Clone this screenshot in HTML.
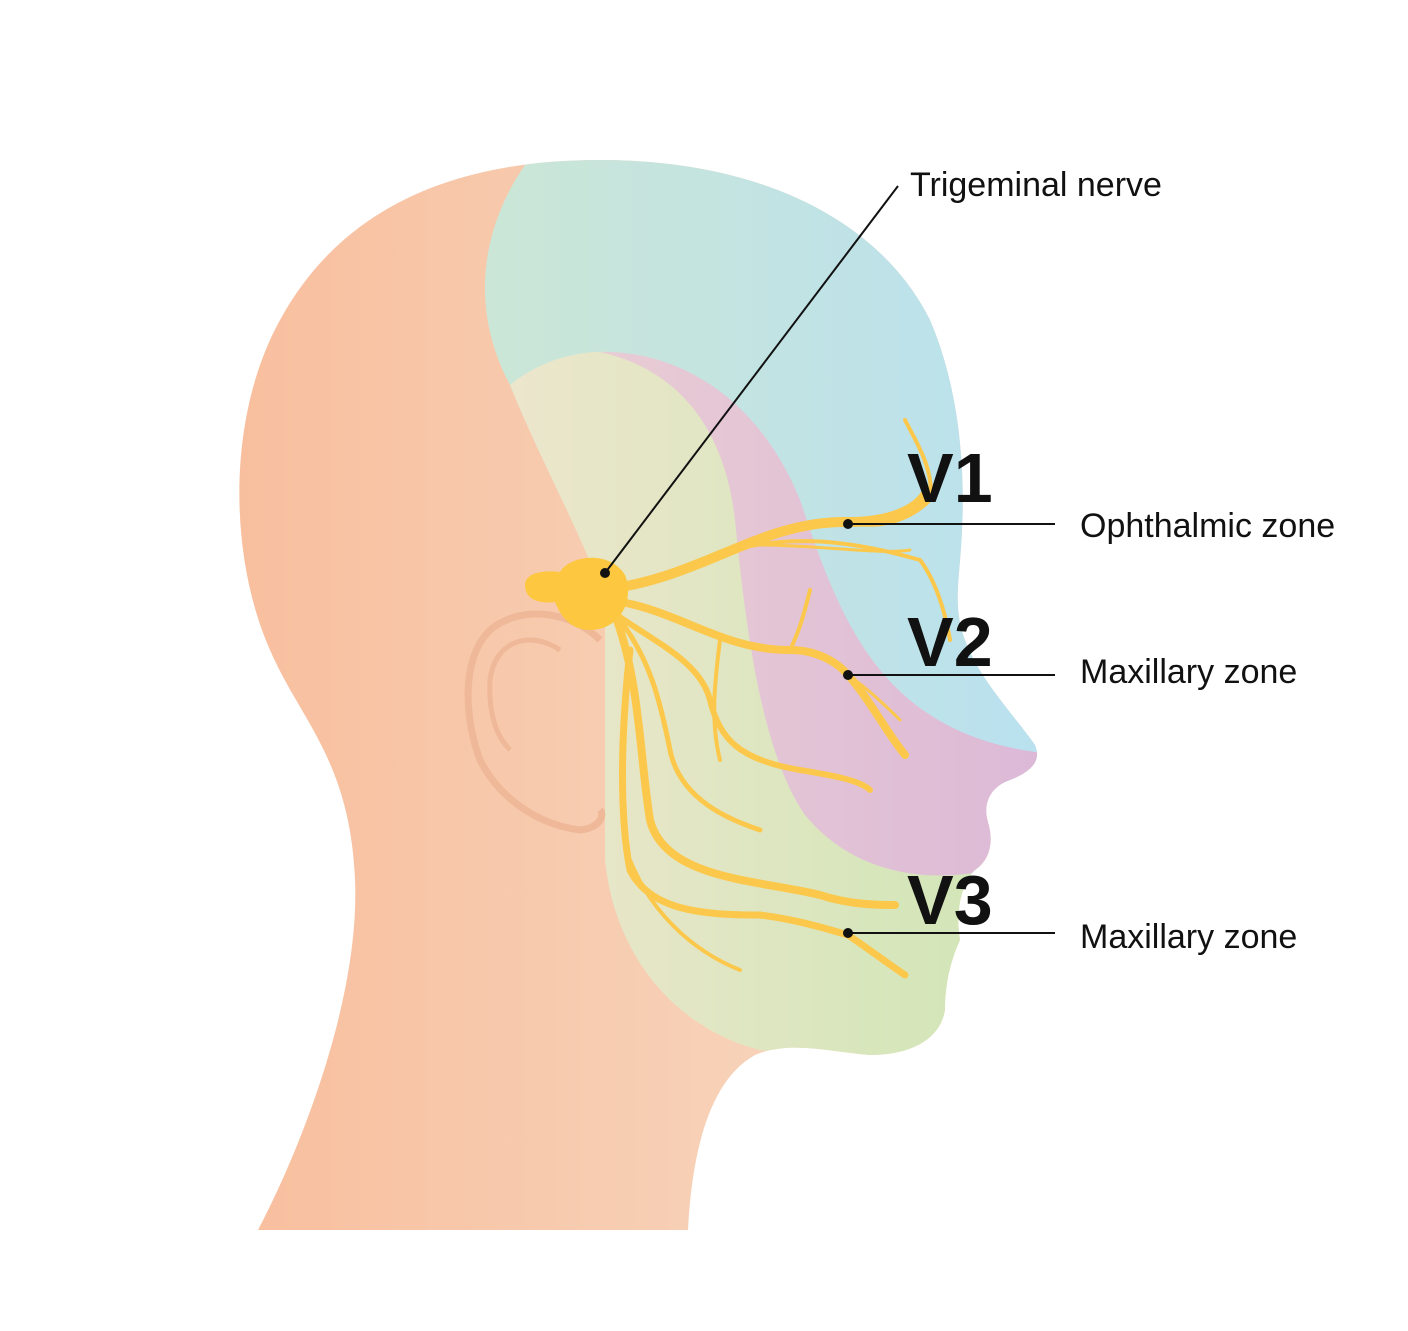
<!DOCTYPE html>
<html><head><meta charset="utf-8"><style>
html,body{margin:0;padding:0;background:#fff}
svg{display:block}
text{font-family:"Liberation Sans",sans-serif}
</style></head><body>
<svg width="1408" height="1331" viewBox="0 0 1408 1331" xmlns="http://www.w3.org/2000/svg">
<defs>
<linearGradient id="gO" x1="0" x2="1"><stop offset="0" stop-color="#f8bf9e"/><stop offset="1" stop-color="#f6dcc6"/></linearGradient>
<linearGradient id="gB" x1="0" x2="1"><stop offset="0" stop-color="#cbe6d6"/><stop offset="1" stop-color="#b4dff6"/></linearGradient>
<linearGradient id="gG" x1="0" x2="1"><stop offset="0" stop-color="#ece6cc"/><stop offset="1" stop-color="#c6e6ae"/></linearGradient>
<linearGradient id="gP" x1="0" x2="1"><stop offset="0" stop-color="#e8ccd4"/><stop offset="1" stop-color="#d8b2d8"/></linearGradient>
<clipPath id="head"><path id="hp" d="M258,1230 C300,1150 360,1000 355,880 C350,760 300,720 270,650 C230,560 225,420 280,320 C340,210 450,160 600,160 C760,160 880,220 930,320 C960,390 965,470 962,530 C960,580 952,605 965,640 C980,680 1010,710 1035,745 C1042,762 1030,772 1010,780 C992,786 982,802 988,822 C994,842 990,860 975,870 C962,882 955,910 960,940 C950,962 945,985 945,1010 C940,1040 910,1055 870,1055 C830,1052 790,1040 755,1055 C710,1080 692,1150 688,1230 Z"/></clipPath>
</defs>
<use href="#hp" fill="url(#gO)"/>
<g clip-path="url(#head)">
<path d="M525,165 C480,230 470,310 510,385 C540,460 580,520 610,590 L1200,900 L1200,100 L525,100 Z" fill="url(#gB)"/>
<path d="M510,385 C540,360 580,350 610,352 C680,355 720,420 740,520 C760,650 780,780 850,850 C900,880 950,880 990,860 L1200,860 L1200,1100 L760,1050 C680,1030 615,960 605,860 L605,600 C580,530 540,460 510,385 Z" fill="url(#gG)"/>
<path d="M600,352 C680,350 760,400 800,500 C840,620 880,730 1035,752 L1200,752 L1200,870 L990,870 C920,885 850,870 805,815 C760,750 745,620 735,520 C725,430 680,370 600,352 Z" fill="url(#gP)"/>
</g>
<path d="M600,640 C570,610 520,605 490,630 C460,660 465,720 480,760 C500,800 540,825 580,830 C600,828 605,815 600,810" fill="none" stroke="#efb898" stroke-width="7"/>
<path d="M560,650 C530,630 495,640 490,680 C488,720 500,740 510,750" fill="none" stroke="#efb898" stroke-width="5"/>
<g fill="none" stroke="#fcc84c" stroke-linecap="round">
<path d="M600,590 C700,580 760,520 848,522 C890,522 915,510 925,495" stroke-width="10"/>
<path d="M848,522 C880,530 910,520 930,500 C935,470 915,440 905,420" stroke-width="4"/>
<path d="M700,560 C780,530 850,540 920,560 C935,580 945,610 950,640" stroke-width="4"/>
<path d="M760,545 C820,545 880,555 910,550" stroke-width="3"/>
<path d="M610,600 C680,610 720,650 790,650 C820,650 840,665 848,675 C870,700 885,730 905,755" stroke-width="8"/>
<path d="M790,650 C800,630 805,610 810,590" stroke-width="4"/>
<path d="M848,675 C870,690 890,710 900,720" stroke-width="3"/>
<path d="M610,610 C650,640 700,660 710,700 C720,740 740,760 800,770 C830,775 860,780 870,790" stroke-width="6"/>
<path d="M620,620 C650,660 660,700 670,750 C680,800 730,820 760,830" stroke-width="5"/>
<path d="M615,615 C640,680 640,760 650,820 C665,880 760,880 820,895 C850,905 880,905 895,905" stroke-width="8"/>
<path d="M630,650 C620,740 620,820 630,870 C650,910 700,915 760,915 C800,920 830,930 848,935 C870,950 890,965 905,975" stroke-width="7"/>
<path d="M630,860 C650,910 690,950 740,970" stroke-width="4"/>
<path d="M720,640 C715,680 710,720 720,760" stroke-width="4"/>
</g>
<path d="M525,585 C525,572 545,570 560,572 C570,555 610,550 625,575 C635,600 620,630 590,630 C570,630 560,615 555,602 C540,604 525,600 525,585 Z" fill="#fdc840"/>
<g stroke="#111" stroke-width="2">
<line x1="898" y1="186" x2="605" y2="573"/>
<line x1="848" y1="524" x2="1055" y2="524"/>
<line x1="848" y1="675" x2="1055" y2="675"/>
<line x1="848" y1="933" x2="1055" y2="933"/>
</g>
<g fill="#111"><circle cx="605" cy="573" r="5"/><circle cx="848" cy="524" r="5"/><circle cx="848" cy="675" r="5"/><circle cx="848" cy="933" r="5"/></g>
<g font-size="34" fill="#111">
<text x="910" y="196">Trigeminal nerve</text>
<text x="1080" y="537">Ophthalmic zone</text>
<text x="1080" y="683">Maxillary zone</text>
<text x="1080" y="948">Maxillary zone</text>
</g>
<g font-size="70" font-weight="bold" fill="#111">
<text x="907" y="502">V1</text>
<text x="907" y="666">V2</text>
<text x="907" y="924">V3</text>
</g>
</svg>
</body></html>
